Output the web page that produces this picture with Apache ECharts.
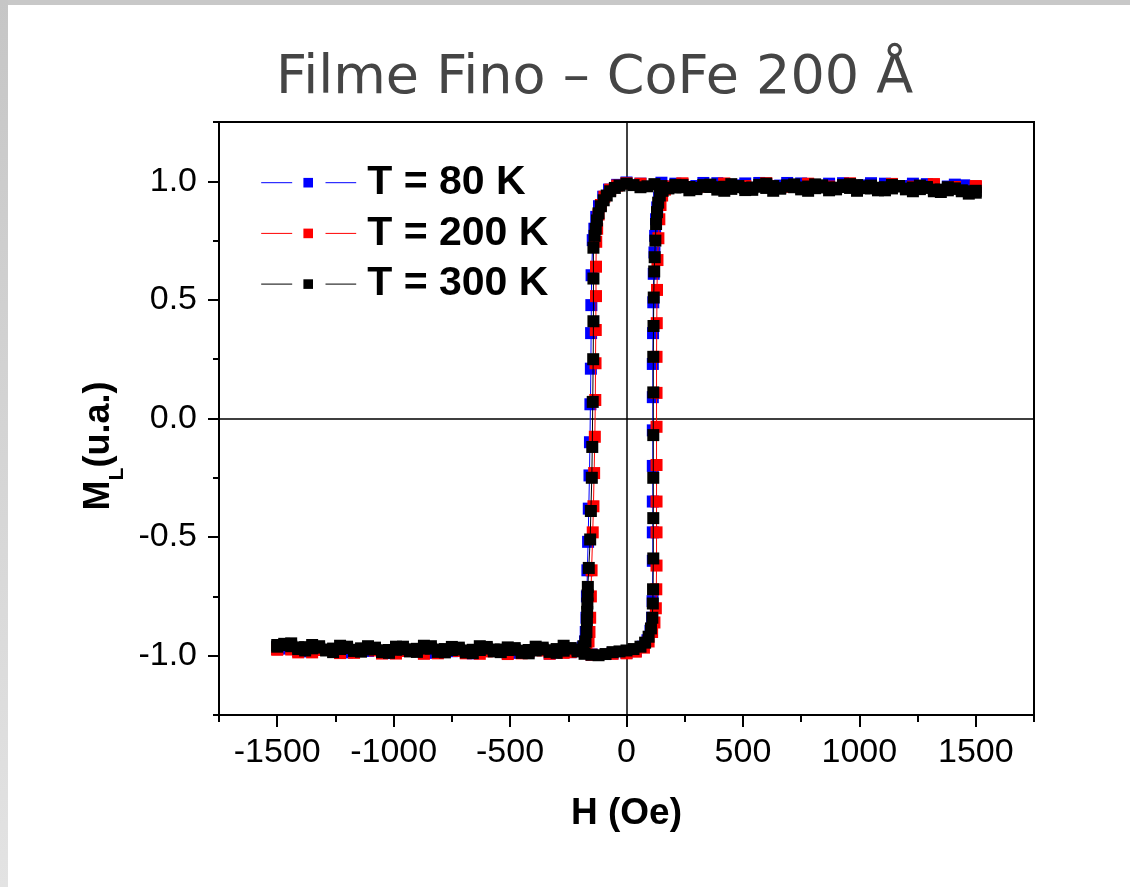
<!DOCTYPE html>
<html>
<head>
<meta charset="utf-8">
<script src="https://cdn.jsdelivr.net/npm/echarts@6/dist/echarts.min.js"></script>
<style>
html,body{margin:0;padding:0;}
#wrap{position:relative;width:1130px;height:887px;background:#fff;overflow:hidden;}
#stripTop{position:absolute;left:0;top:0;width:1130px;height:5px;background:#c8c8c8;}
#stripLeft{position:absolute;left:0;top:0;width:8px;height:887px;background:linear-gradient(to bottom,#c6c6c6,#e3e3e3);}
#chart{position:absolute;left:0;top:0;width:1130px;height:887px;}
</style>
</head>
<body>
<div id="wrap"><div id="stripTop"></div><div id="stripLeft"></div><div id="chart"></div></div>
<script>
// ---- data (H in Oe, M normalized) ----
const seriesNames = ['T = 80 K', 'T = 200 K', 'T = 300 K'];
const xMajorTicks = [-1500, -1000, -500, 0, 500, 1000, 1500];
const xMinorTicks = [-1750, -1250, -750, -250, 250, 750, 1250, 1750];
const yMajorTicks = [-1, -0.5, 0, 0.5, 1];
const yMinorTicks = [-1.25, -0.75, -0.25, 0.25, 0.75, 1.25];

// T = 80 K, descending branch (+1500 -> -1500)
const desc80 = [[1500,0.976],[1410,0.986],[1320,0.978],[1230,0.99],[1140,0.981],[1050,0.992],[960,0.983],[870,0.99],[780,0.98],[690,0.993],[600,0.984],[510,0.991],[420,0.981],[330,0.993],[240,0.985],[150,0.994],[60,0.99],[0,0.995],[-40,0.985],[-75,0.965],[-100,0.935],[-118,0.895],[-130,0.85],[-138,0.8],[-145,0.752],[-150,0.604],[-151,0.478],[-152,0.36],[-153,0.21],[-155,0.06],[-157,-0.1],[-159,-0.24],[-162,-0.38],[-165,-0.52],[-168,-0.64],[-170,-0.75],[-172,-0.84],[-175,-0.9],[-178,-0.94],[-188,-0.965],[-215,-0.978],[-300,-0.986],[-390,-0.976],[-480,-0.988],[-570,-0.98],[-660,-0.99],[-750,-0.981],[-840,-0.988],[-930,-0.978],[-1020,-0.989],[-1110,-0.98],[-1200,-0.986],[-1290,-0.976],[-1380,-0.982],[-1450,-0.97],[-1500,-0.966]];
// T = 80 K, ascending branch (-1500 -> +1500)
const asc80 = [[-1500,-0.972],[-1410,-0.98],[-1320,-0.973],[-1230,-0.986],[-1140,-0.977],[-1050,-0.988],[-960,-0.979],[-870,-0.989],[-780,-0.981],[-690,-0.987],[-600,-0.978],[-510,-0.99],[-420,-0.982],[-330,-0.991],[-240,-0.985],[-150,-0.995],[-60,-0.99],[0,-0.988],[40,-0.98],[70,-0.962],[90,-0.935],[103,-0.895],[110,-0.84],[112,-0.77],[113,-0.6],[113,-0.48],[113,-0.35],[113,-0.2],[113,-0.05],[113,0.09],[113,0.23],[114,0.36],[115,0.49],[117,0.61],[120,0.7],[123,0.77],[127,0.84],[132,0.89],[140,0.93],[152,0.96],[175,0.978],[210,0.99],[300,0.98],[390,0.992],[480,0.983],[570,0.993],[660,0.982],[750,0.991],[840,0.98],[930,0.992],[1020,0.983],[1110,0.99],[1200,0.98],[1290,0.988],[1380,0.978],[1450,0.983],[1500,0.976]];

// T = 200 K
const desc200 = [[1500,0.98],[1410,0.975],[1320,0.988],[1230,0.972],[1140,0.986],[1050,0.975],[960,0.99],[870,0.974],[780,0.988],[690,0.977],[600,0.99],[510,0.975],[420,0.988],[330,0.978],[240,0.991],[150,0.979],[60,0.99],[0,0.992],[-40,0.982],[-70,0.965],[-95,0.935],[-110,0.9],[-120,0.86],[-126,0.8],[-130,0.745],[-131,0.64],[-131,0.516],[-132,0.373],[-133,0.233],[-134,0.078],[-136,-0.077],[-139,-0.23],[-142,-0.37],[-145,-0.48],[-150,-0.64],[-153,-0.75],[-156,-0.84],[-159,-0.9],[-163,-0.94],[-172,-0.965],[-200,-0.978],[-270,-0.988],[-360,-0.978],[-450,-0.99],[-540,-0.98],[-630,-0.992],[-720,-0.98],[-810,-0.99],[-900,-0.979],[-990,-0.991],[-1080,-0.978],[-1170,-0.988],[-1260,-0.976],[-1350,-0.986],[-1440,-0.974],[-1500,-0.972]];
const asc200 = [[-1500,-0.975],[-1410,-0.986],[-1320,-0.976],[-1230,-0.989],[-1140,-0.979],[-1050,-0.991],[-960,-0.98],[-870,-0.992],[-780,-0.98],[-690,-0.99],[-600,-0.982],[-510,-0.993],[-420,-0.981],[-330,-0.992],[-240,-0.985],[-150,-0.996],[-60,-0.992],[0,-0.99],[40,-0.983],[75,-0.966],[95,-0.94],[110,-0.9],[120,-0.86],[126,-0.8],[128,-0.72],[129,-0.62],[129,-0.48],[129,-0.35],[129,-0.196],[129,-0.035],[129,0.108],[129,0.26],[130,0.402],[131,0.542],[133,0.668],[137,0.76],[141,0.84],[146,0.9],[153,0.94],[165,0.965],[190,0.978],[240,0.99],[330,0.978],[420,0.991],[510,0.98],[600,0.992],[690,0.979],[780,0.99],[870,0.978],[960,0.991],[1050,0.98],[1140,0.989],[1230,0.977],[1320,0.987],[1410,0.976],[1500,0.978]];

// T = 300 K
const desc300 = [[1500,0.952],[1470,0.958],[1440,0.962],[1410,0.97],[1380,0.975],[1350,0.965],[1320,0.958],[1290,0.972],[1260,0.982],[1230,0.974],[1200,0.966],[1170,0.978],[1140,0.985],[1110,0.975],[1080,0.962],[1050,0.97],[1020,0.978],[990,0.984],[960,0.988],[930,0.976],[900,0.966],[870,0.974],[840,0.983],[810,0.971],[780,0.96],[750,0.974],[720,0.987],[690,0.978],[660,0.969],[630,0.98],[600,0.99],[570,0.977],[540,0.964],[510,0.972],[480,0.98],[450,0.968],[420,0.96],[390,0.975],[360,0.986],[330,0.977],[300,0.967],[270,0.976],[240,0.984],[210,0.974],[180,0.97],[150,0.98],[120,0.988],[90,0.979],[60,0.975],[30,0.984],[0,0.99],[-30,0.982],[-50,0.972],[-70,0.958],[-85,0.94],[-98,0.92],[-110,0.895],[-120,0.865],[-127,0.835],[-132,0.8],[-137,0.77],[-142,0.72],[-142,0.59],[-142,0.41],[-143,0.25],[-145,0.07],[-147,-0.12],[-149,-0.25],[-153,-0.39],[-156,-0.51],[-162,-0.63],[-166,-0.71],[-167,-0.745],[-168,-0.78],[-169,-0.815],[-170,-0.85],[-172,-0.9],[-176,-0.94],[-185,-0.96],[-210,-0.975],[-240,-0.968],[-270,-0.958],[-300,-0.972],[-330,-0.984],[-360,-0.973],[-390,-0.962],[-420,-0.976],[-450,-0.988],[-480,-0.975],[-510,-0.965],[-540,-0.974],[-570,-0.982],[-600,-0.97],[-630,-0.96],[-660,-0.975],[-690,-0.986],[-720,-0.974],[-750,-0.963],[-780,-0.972],[-810,-0.984],[-840,-0.97],[-870,-0.958],[-900,-0.971],[-930,-0.982],[-960,-0.973],[-990,-0.962],[-1020,-0.976],[-1050,-0.985],[-1080,-0.972],[-1110,-0.96],[-1140,-0.969],[-1170,-0.98],[-1200,-0.968],[-1230,-0.958],[-1260,-0.97],[-1290,-0.978],[-1320,-0.966],[-1350,-0.955],[-1380,-0.964],[-1410,-0.972],[-1440,-0.96],[-1470,-0.95],[-1500,-0.955]];
const asc300 = [[-1500,-0.962],[-1470,-0.955],[-1440,-0.948],[-1410,-0.965],[-1380,-0.978],[-1350,-0.969],[-1320,-0.96],[-1290,-0.974],[-1260,-0.985],[-1230,-0.972],[-1200,-0.962],[-1170,-0.975],[-1140,-0.983],[-1110,-0.974],[-1080,-0.966],[-1050,-0.977],[-1020,-0.988],[-990,-0.975],[-960,-0.962],[-930,-0.973],[-900,-0.984],[-870,-0.97],[-840,-0.96],[-810,-0.974],[-780,-0.986],[-750,-0.976],[-720,-0.966],[-690,-0.978],[-660,-0.989],[-630,-0.976],[-600,-0.963],[-570,-0.974],[-540,-0.985],[-510,-0.976],[-480,-0.968],[-450,-0.979],[-420,-0.99],[-390,-0.978],[-360,-0.966],[-330,-0.977],[-300,-0.988],[-270,-0.979],[-240,-0.97],[-210,-0.982],[-180,-0.992],[-150,-0.996],[-120,-0.998],[-90,-0.993],[-60,-0.985],[-30,-0.982],[0,-0.978],[30,-0.972],[60,-0.962],[80,-0.945],[95,-0.92],[105,-0.885],[111,-0.84],[113,-0.78],[114,-0.72],[115,-0.59],[115,-0.42],[115,-0.25],[115,-0.07],[115,0.11],[115,0.26],[116,0.39],[117,0.51],[119,0.62],[121,0.68],[124,0.75],[127,0.82],[131,0.87],[136,0.91],[143,0.94],[155,0.96],[175,0.972],[210,0.985],[240,0.975],[270,0.962],[300,0.972],[330,0.984],[360,0.976],[390,0.965],[420,0.977],[450,0.988],[480,0.975],[510,0.963],[540,0.974],[570,0.985],[600,0.972],[630,0.96],[660,0.971],[690,0.983],[720,0.975],[750,0.966],[780,0.978],[810,0.987],[840,0.974],[870,0.962],[900,0.973],[930,0.984],[960,0.972],[990,0.96],[1020,0.971],[1050,0.982],[1080,0.973],[1110,0.962],[1140,0.97],[1170,0.98],[1200,0.969],[1230,0.958],[1260,0.967],[1290,0.976],[1320,0.965],[1350,0.955],[1380,0.962],[1410,0.968],[1440,0.958],[1470,0.948],[1500,0.96]];

const seriesData = [desc80.concat(asc80), desc200.concat(asc200), desc300.concat(asc300)];
const seriesColors = ['#0000ff', '#ff0000', '#000000'];

const FONT = '"Liberation Sans", Arial, sans-serif';
const chart = echarts.init(document.getElementById('chart'), null, {renderer: 'canvas'});

const hidden = {show: false};
const option = {
  animation: false,
  backgroundColor: 'transparent',
  title: {
    text: 'Filme Fino – CoFe 200 Å',
    left: 276, top: 49, padding: 0,
    textStyle: {fontFamily: '"DejaVu Sans", sans-serif', fontSize: 54, fontWeight: 'normal', color: '#454545', lineHeight: 60}
  },
  legend: {
    data: seriesNames,
    orient: 'vertical',
    left: 255.7, top: 160.7, padding: 0,
    itemWidth: 104, itemHeight: 12, itemGap: 6.7,
    selectedMode: false,
    lineStyle: {width: 1, type: [0, 5, 31, 33.3, 30.7, 300]},
    textStyle: {fontFamily: FONT, fontSize: 41, fontWeight: 'bold', color: '#000', lineHeight: 44, padding: [0, 0, 0, 2]}
  },
  grid: {left: 219, right: 96, top: 122, bottom: 172, show: true, borderColor: '#000', borderWidth: 2, containLabel: false},
  xAxis: [
    {
      type: 'value', min: -1750, max: 1750, position: 'bottom',
      name: 'H (Oe)', nameLocation: 'middle', nameGap: 80,
      nameTextStyle: {fontFamily: FONT, fontSize: 37, fontWeight: 'bold', color: '#000'},
      axisLine: {show: true, onZero: false, lineStyle: {color: '#000', width: 2}},
      axisTick: {show: true, inside: false, length: 12, customValues: xMajorTicks, lineStyle: {color: '#000', width: 2}},
      axisLabel: {show: true, customValues: xMajorTicks, margin: 21, fontFamily: FONT, fontSize: 34, color: '#000', formatter: v => String(v)},
      splitLine: hidden
    },
    {
      type: 'value', min: -1750, max: 1750, position: 'bottom',
      axisLine: {show: false, onZero: false},
      axisTick: {show: true, inside: false, length: 7, customValues: xMinorTicks, lineStyle: {color: '#000', width: 2}},
      axisLabel: hidden, splitLine: hidden
    },
    {
      type: 'value', min: -1750, max: 1750, position: 'bottom',
      axisLine: {show: true, onZero: true, onZeroAxisIndex: 0, lineStyle: {color: '#000', width: 1.5}},
      axisTick: hidden, axisLabel: hidden, splitLine: hidden
    }
  ],
  yAxis: [
    {
      type: 'value', min: -1.25, max: 1.25, position: 'left',
      name: '{m|M}{s|L}{m|(u.a.)}', nameLocation: 'middle', nameGap: 94, nameRotate: 90,
      nameTextStyle: {
        fontFamily: FONT, fontSize: 36, fontWeight: 'bold', color: '#000', padding: [0, 55, 0, 0],
        rich: {
          m: {fontFamily: FONT, fontSize: 36, fontWeight: 'bold', color: '#000', lineHeight: 40, verticalAlign: 'top'},
          s: {fontFamily: FONT, fontSize: 21, fontWeight: 'bold', color: '#000', lineHeight: 20, padding: [32, 0, 0, 0]}
        }
      },
      axisLine: {show: true, onZero: false, lineStyle: {color: '#000', width: 2}},
      axisTick: {show: true, inside: false, length: 11, customValues: yMajorTicks, lineStyle: {color: '#000', width: 2}},
      axisLabel: {show: true, customValues: yMajorTicks, margin: 22, fontFamily: FONT, fontSize: 34, color: '#000', formatter: v => v.toFixed(1)},
      splitLine: hidden
    },
    {
      type: 'value', min: -1.25, max: 1.25, position: 'left',
      axisLine: {show: false, onZero: false},
      axisTick: {show: true, inside: false, length: 6, customValues: yMinorTicks, lineStyle: {color: '#000', width: 2}},
      axisLabel: hidden, splitLine: hidden
    },
    {
      type: 'value', min: -1.25, max: 1.25, position: 'left',
      axisLine: {show: true, onZero: true, onZeroAxisIndex: 0, lineStyle: {color: '#000', width: 1.5}},
      axisTick: hidden, axisLabel: hidden, splitLine: hidden
    }
  ],
  series: seriesNames.map((name, i) => ({
    name: name,
    type: 'line',
    xAxisIndex: 0, yAxisIndex: 0,
    data: seriesData[i],
    symbol: 'rect',
    symbolSize: 12,
    showSymbol: true,
    lineStyle: {color: seriesColors[i], width: 1},
    itemStyle: {color: seriesColors[i]},
    emphasis: {disabled: true},
    z: 2 + i
  }))
};
chart.setOption(option);
</script>
</body>
</html>
